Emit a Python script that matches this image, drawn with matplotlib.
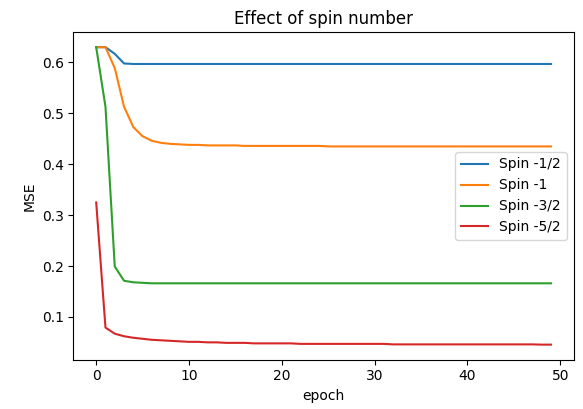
import matplotlib
matplotlib.use("Agg")
import matplotlib.pyplot as plt

epochs = list(range(50))

spin_half = [0.630, 0.630, 0.617, 0.598, 0.597, 0.597, 0.597, 0.597, 0.597, 0.597,
             0.597, 0.597, 0.597, 0.597, 0.597, 0.597, 0.597, 0.597, 0.597, 0.597,
             0.597, 0.597, 0.597, 0.597, 0.597, 0.597, 0.597, 0.597, 0.597, 0.597,
             0.597, 0.597, 0.597, 0.597, 0.597, 0.597, 0.597, 0.597, 0.597, 0.597,
             0.597, 0.597, 0.597, 0.597, 0.597, 0.597, 0.597, 0.597, 0.597, 0.597]

spin_one = [0.630, 0.630, 0.589, 0.513, 0.473, 0.455, 0.446, 0.442, 0.440, 0.439,
            0.438, 0.438, 0.437, 0.437, 0.437, 0.437, 0.436, 0.436, 0.436, 0.436,
            0.436, 0.436, 0.436, 0.436, 0.436, 0.435, 0.435, 0.435, 0.435, 0.435,
            0.435, 0.435, 0.435, 0.435, 0.435, 0.435, 0.435, 0.435, 0.435, 0.435,
            0.435, 0.435, 0.435, 0.435, 0.435, 0.435, 0.435, 0.435, 0.435, 0.435]

spin_three_half = [0.630, 0.513, 0.199, 0.171, 0.168, 0.167, 0.166, 0.166, 0.166, 0.166,
                   0.166, 0.166, 0.166, 0.166, 0.166, 0.166, 0.166, 0.166, 0.166, 0.166,
                   0.166, 0.166, 0.166, 0.166, 0.166, 0.166, 0.166, 0.166, 0.166, 0.166,
                   0.166, 0.166, 0.166, 0.166, 0.166, 0.166, 0.166, 0.166, 0.166, 0.166,
                   0.166, 0.166, 0.166, 0.166, 0.166, 0.166, 0.166, 0.166, 0.166, 0.166]

spin_five_half = [0.325, 0.079, 0.067, 0.062, 0.059, 0.057, 0.055, 0.054, 0.053, 0.052,
                  0.051, 0.051, 0.050, 0.050, 0.049, 0.049, 0.049, 0.048, 0.048, 0.048,
                  0.048, 0.048, 0.047, 0.047, 0.047, 0.047, 0.047, 0.047, 0.047, 0.047,
                  0.047, 0.047, 0.046, 0.046, 0.046, 0.046, 0.046, 0.046, 0.046, 0.046,
                  0.046, 0.046, 0.046, 0.046, 0.046, 0.046, 0.046, 0.046, 0.0455, 0.0455]

labels = ["Spin -1/2", "Spin -1", "Spin -3/2", "Spin -5/2"]

fig, ax = plt.subplots(figsize=(5.83, 4.09), dpi=100)
fig.subplots_adjust(left=0.126, right=0.984, top=0.921, bottom=0.121)

for series, lab in zip([spin_half, spin_one, spin_three_half, spin_five_half], labels):
    ax.plot(epochs, series, label=lab)

ax.set_title("Effect of spin number")
ax.set_xlabel("epoch")
ax.set_ylabel("MSE")
ax.set_yticks([0.1, 0.2, 0.3, 0.4, 0.5, 0.6])
ax.legend(loc="center right")

fig.savefig("out.png", dpi=100)
